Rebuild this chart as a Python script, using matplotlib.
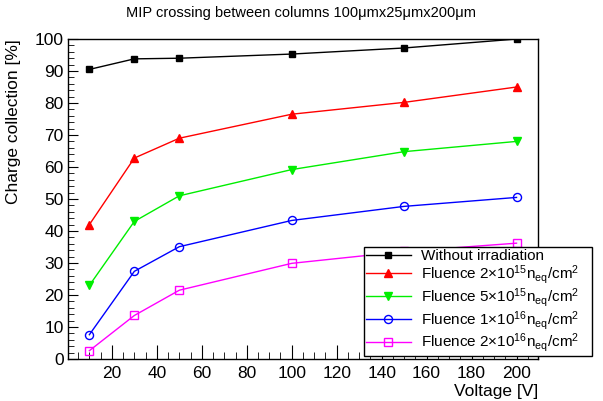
import matplotlib.pyplot as plt
from matplotlib.ticker import MultipleLocator

plt.rcParams['font.family'] = ['Liberation Sans', 'DejaVu Sans']
plt.rcParams['mathtext.fontset'] = 'custom'
plt.rcParams['mathtext.rm'] = 'Liberation Sans'
plt.rcParams['mathtext.it'] = 'Liberation Sans'
plt.rcParams['mathtext.default'] = 'regular'

# Bias voltage points [V]
voltage = [10, 30, 50, 100, 150, 200]

# Charge collection [%] for each irradiation level
cc_unirr = [90.5, 93.8, 94.0, 95.3, 97.2, 100.0]
cc_2e15 = [42.0, 62.8, 69.0, 76.5, 80.2, 85.0]
cc_5e15 = [23.0, 43.0, 51.0, 59.2, 64.8, 68.0]
cc_1e16 = [7.6, 27.4, 35.1, 43.3, 47.7, 50.5]
cc_2e16 = [2.6, 13.6, 21.5, 29.9, 33.6, 36.2]

labels = [
    'Without irradiation',
    'Fluence 2×10$^{15}$n$_{eq}$/cm$^{2}$',
    'Fluence 5×10$^{15}$n$_{eq}$/cm$^{2}$',
    'Fluence 1×10$^{16}$n$_{eq}$/cm$^{2}$',
    'Fluence 2×10$^{16}$n$_{eq}$/cm$^{2}$',
]

fig = plt.figure(figsize=(6.03, 4.01), dpi=100)
ax = fig.add_axes([0.1128, 0.1047, 0.892 - 0.1128, 0.9027 - 0.1047])

ax.plot(voltage, cc_unirr, color='black', lw=1, marker='s', ms=5,
        label=labels[0])
ax.plot(voltage, cc_2e15, color='red', lw=1, marker='^', ms=5.5,
        label=labels[1])
ax.plot(voltage, cc_5e15, color='#00ee00', lw=1, marker='v', ms=5.5,
        label=labels[2])
ax.plot(voltage, cc_1e16, color='blue', lw=1, marker='o', ms=5.8,
        mfc='none', mew=1, label=labels[3])
ax.plot(voltage, cc_2e16, color='magenta', lw=1, marker='s', ms=5.3,
        mfc='none', mew=1, label=labels[4])

ax.set_xlim(0.5, 209.5)
ax.set_ylim(0, 100)
ax.xaxis.set_major_locator(MultipleLocator(20))
ax.xaxis.set_minor_locator(MultipleLocator(5))
ax.yaxis.set_major_locator(MultipleLocator(10))
ax.yaxis.set_minor_locator(MultipleLocator(2))
ax.set_xticks([20, 40, 60, 80, 100, 120, 140, 160, 180, 200])
ax.tick_params(which='both', direction='in', top=False, right=False,
               labelsize=12.5)
ax.tick_params(axis='x', which='major', length=10, pad=5)
ax.tick_params(axis='x', which='minor', length=5)
ax.tick_params(axis='y', which='major', length=7, pad=3)
ax.tick_params(axis='y', which='minor', length=4)
for s in ax.spines.values():
    s.set_linewidth(1)

ax.set_xlabel('Voltage [V]', fontsize=12.5, loc='right', labelpad=2)
ax.set_ylabel('Charge collection [%]', fontsize=12.5, loc='top', labelpad=10)
fig.text(0.5, 0.968, 'MIP crossing between columns 100μmx25μmx200μm',
         ha='center', va='center', fontsize=10.5)

# legend box sits over the lower right corner of the frame
leg = ax.legend(loc='lower left', bbox_to_anchor=(364 / 603, 45 / 401, 228 / 603, 103 / 401),
                bbox_transform=fig.transFigure, mode='expand', fontsize=11,
                frameon=True, fancybox=False, borderaxespad=0,
                handlelength=3.0, handletextpad=0.6, labelspacing=0.0,
                borderpad=0.1)
leg.get_frame().set_edgecolor('black')
leg.get_frame().set_linewidth(1)
leg.get_frame().set_alpha(1)

fig.savefig('out.png', dpi=100)
